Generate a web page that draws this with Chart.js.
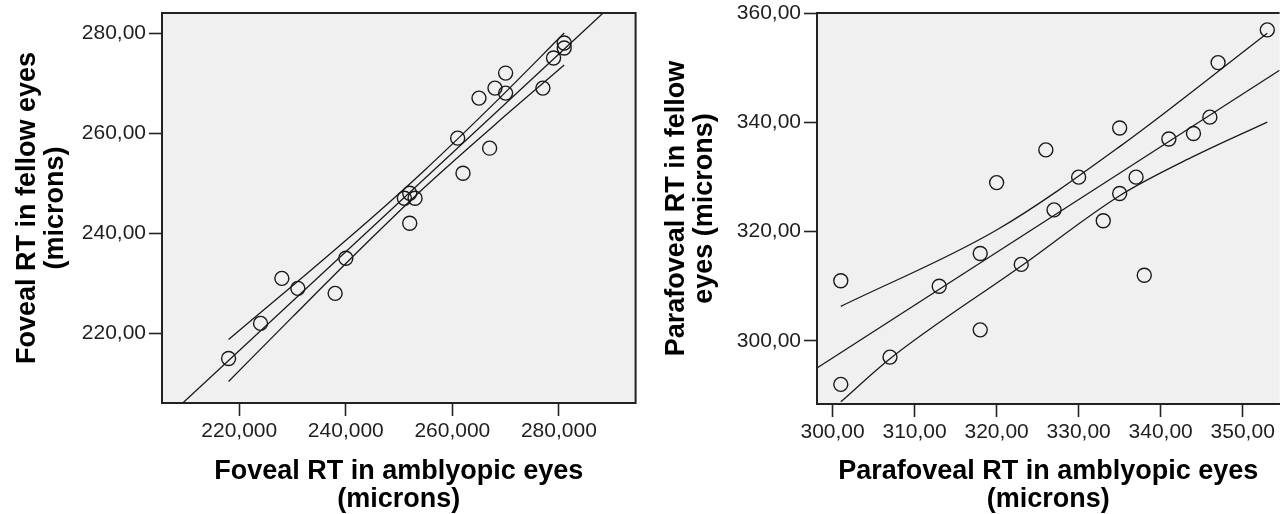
<!DOCTYPE html>
<html>
<head>
<meta charset="utf-8">
<script src="https://cdn.jsdelivr.net/npm/chart.js@4/dist/chart.umd.min.js"></script>
<style>
    body { margin: 0; background: #fff; overflow: hidden; }
    canvas { position: absolute; top: 0; }
    #chartFoveal { left: 0; }
    #chartParafoveal { left: 640px; }
</style>
</head>
<body>
<canvas id="chartFoveal" width="644" height="514"></canvas>
<canvas id="chartParafoveal" width="648" height="514"></canvas>
<script>
// foveal RT: amblyopic (x) vs fellow (y)
const fovealAmb = [218, 224, 228, 231, 238, 240, 251, 252, 253, 252, 261, 262, 267, 265, 268, 270, 270, 277, 279, 281, 281];
const fovealFellow = [215, 222, 231, 229, 228, 235, 247, 248, 247, 242, 259, 252, 257, 267, 269, 272, 268, 269, 275, 278, 277];
const fovealFitX = [209.4, 288.3];
const fovealFitY = [206.1, 284.0];
const fovealBandX = [218, 230, 245, 255, 268, 281];
const fovealUpper = [218.8, 229.5, 243.2, 252.8, 266.1, 280.0];
const fovealLower = [210.4, 223.3, 239.2, 249.4, 261.7, 273.6];
const fovealXTicks = [220, 240, 260, 280];
const fovealXLabels = ["220,000", "240,000", "260,000", "280,000"];
const fovealYTicks = [220, 240, 260, 280];
const fovealYLabels = ["220,00", "240,00", "260,00", "280,00"];

// parafoveal RT: amblyopic (x) vs fellow (y)
const paraAmb = [301, 301, 307, 313, 318, 318, 320, 323, 326, 327, 330, 333, 335, 335, 337, 338, 341, 344, 346, 347, 353];
const paraFellow = [311, 292, 297, 310, 316, 302, 329, 314, 335, 324, 330, 322, 339, 327, 330, 312, 337, 338, 341, 351, 357];
const paraFitX = [298.1, 354.5];
const paraFitY = [295.0, 349.6];
const paraUpperX = [301, 320, 335, 353];
const paraUpper = [306.3, 320.3, 335.6, 356.4];
const paraLowerX = [301, 307, 323, 335, 344, 353];
const paraLower = [288.8, 296.7, 313.7, 326.6, 333.8, 340.1];
const paraXTicks = [300, 310, 320, 330, 340, 350];
const paraXLabels = ["300,00", "310,00", "320,00", "330,00", "340,00", "350,00"];
const paraYTicks = [300, 320, 340, 360];
const paraYLabels = ["300,00", "320,00", "340,00", "360,00"];

const ink = "#1a1a1a";
const fontFamily = "'Liberation Sans', Arial, sans-serif";

function pares(xs, ys) {
    return xs.map((x, i) => ({ x: x, y: ys[i] }));
}

// fondo gris y borde superior/derecho del area
const marco = {
    id: "marco",
    beforeDraw(chart, args, opts) {
        const a = chart.chartArea;
        const ctx = chart.ctx;
        ctx.save();
        ctx.fillStyle = "#f0f0f0";
        ctx.fillRect(a.left, a.top, a.right - a.left, a.bottom - a.top);
        ctx.restore();
    },
    afterDraw(chart, args, opts) {
        const a = chart.chartArea;
        const ctx = chart.ctx;
        ctx.save();
        ctx.strokeStyle = "#222";
        ctx.lineWidth = 2;
        ctx.beginPath();
        ctx.moveTo(a.left - 1, a.top);
        ctx.lineTo(a.right, a.top);
        if (opts.right) {
            ctx.lineTo(a.right, a.bottom + 1);
        }
        ctx.stroke();
        ctx.restore();
    }
};

function lineaDataset(data, curva) {
    return {
        data: data,
        showLine: true,
        pointRadius: 0,
        borderColor: ink,
        borderWidth: 1.3,
        cubicInterpolationMode: curva ? "monotone" : "default"
    };
}

function crearGrafico(id, cfg) {
    const eje = (ticks, labels, extra) => Object.assign({
        type: "linear",
        afterBuildTicks: (scale) => { scale.ticks = ticks.map((v) => ({ value: v })); },
        ticks: {
            color: "#1e1e1e",
            font: { family: fontFamily, size: 21 },
            padding: 3,
            callback: (v, i) => labels[i]
        },
        grid: {
            display: true,
            drawOnChartArea: false,
            drawTicks: true,
            tickLength: 13,
            tickColor: "#222",
            tickWidth: 1.6
        },
        border: { display: true, color: "#222", width: 2 }
    }, extra);

    const titulo = (texto, pad) => ({
        display: true,
        text: texto,
        color: "#000",
        font: { family: fontFamily, size: 27, weight: "bold", lineHeight: 1.05 },
        padding: pad
    });

    return new Chart(document.getElementById(id), {
        type: "scatter",
        data: {
            datasets: [
                {
                    data: pares(cfg.xs, cfg.ys),
                    pointStyle: "circle",
                    pointRadius: 7,
                    pointBackgroundColor: "rgba(0,0,0,0)",
                    pointBorderColor: ink,
                    pointBorderWidth: 1.4
                },
                lineaDataset(pares(cfg.fitX, cfg.fitY), false),
                lineaDataset(pares(cfg.upX, cfg.up), true),
                lineaDataset(pares(cfg.loX, cfg.lo), true)
            ]
        },
        options: {
            responsive: false,
            animation: false,
            layout: { padding: { top: 13, right: 0, bottom: 0, left: 0 } },
            plugins: {
                legend: { display: false },
                tooltip: { enabled: false },
                marco: { right: cfg.frameRight }
            },
            scales: {
                x: eje(cfg.xTicks, cfg.xLabels, {
                    position: "bottom",
                    min: cfg.xMin,
                    max: cfg.xMax,
                    afterFit: (scale) => {
                        scale.height = cfg.xHeight;
                        scale.paddingLeft = 0;
                        scale.paddingRight = 0;
                    },
                    title: titulo(cfg.xTitle, { top: 0, bottom: 0 })
                }),
                y: eje(cfg.yTicks, cfg.yLabels, {
                    position: "left",
                    min: cfg.yMin,
                    max: cfg.yMax,
                    afterFit: (scale) => {
                        scale.width = cfg.yWidth;
                        scale.paddingTop = 0;
                        scale.paddingBottom = 0;
                    },
                    title: titulo(cfg.yTitle, { top: cfg.yTitlePad, bottom: 0 })
                })
            }
        },
        plugins: [marco]
    });
}

crearGrafico("chartFoveal", {
    xs: fovealAmb, ys: fovealFellow,
    fitX: fovealFitX, fitY: fovealFitY,
    upX: fovealBandX, up: fovealUpper,
    loX: fovealBandX, lo: fovealLower,
    xTicks: fovealXTicks, xLabels: fovealXLabels,
    yTicks: fovealYTicks, yLabels: fovealYLabels,
    xMin: 205.5, xMax: 294.4, yMin: 206.1, yMax: 284.0,
    xTitle: ["Foveal RT in amblyopic eyes", "(microns)"],
    yTitle: ["Foveal RT in fellow eyes", "(microns)"],
    yTitlePad: 13, yWidth: 162, xHeight: 111,
    frameRight: true
});

crearGrafico("chartParafoveal", {
    xs: paraAmb, ys: paraFellow,
    fitX: paraFitX, fitY: paraFitY,
    upX: paraUpperX, up: paraUpper,
    loX: paraLowerX, lo: paraLower,
    xTicks: paraXTicks, xLabels: paraXLabels,
    yTicks: paraYTicks, yLabels: paraYLabels,
    xMin: 298.1, xMax: 354.5, yMin: 288.4, yMax: 360.1,
    xTitle: ["Parafoveal RT in amblyopic eyes", "(microns)"],
    yTitle: ["Parafoveal RT in fellow", "eyes (microns)"],
    yTitlePad: 22, yWidth: 177, xHeight: 110,
    frameRight: false
});
</script>
</body>
</html>
